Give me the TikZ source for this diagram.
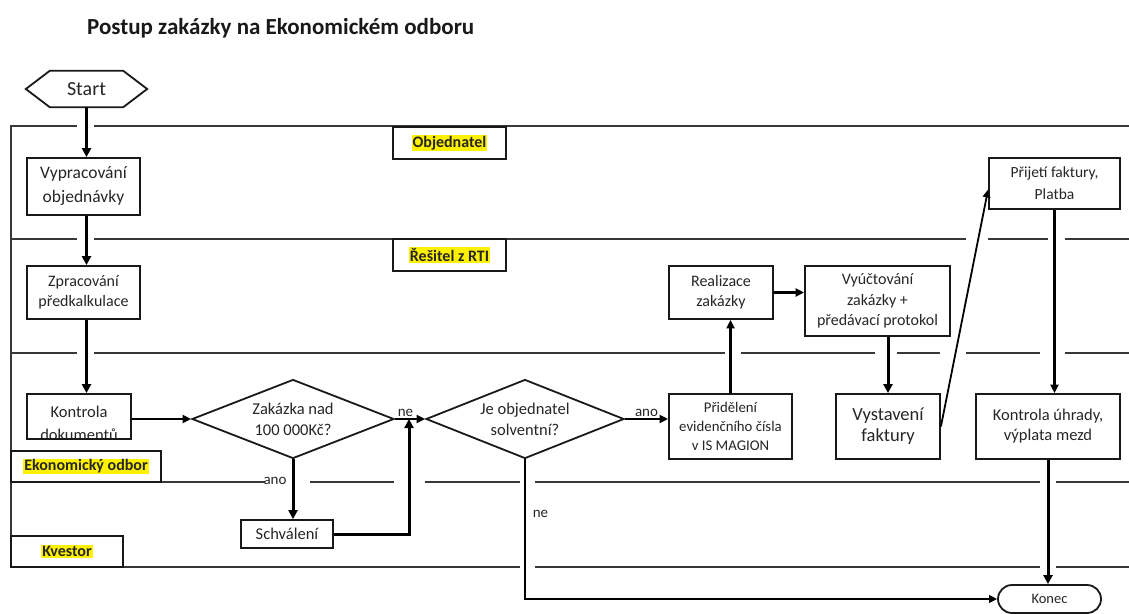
\documentclass[tikz,border=0pt]{standalone}
\usepackage{fontspec}
\setmainfont{Carlito}
\usetikzlibrary{shapes.geometric,arrows.meta}
\newcommand{\fsz}[2]{\fontsize{#1}{#2}\selectfont}
\newcommand{\hlt}[1]{{\setlength{\fboxsep}{1pt}\colorbox{yellow}{#1}}}
\begin{document}
\begin{tikzpicture}[x=1pt,y=-1pt,
  lane/.style={draw=black!78, line width=2pt},
  outline/.style={draw=black!90, line width=1.8pt, fill=white},
  box/.style={draw=black!90, line width=1.8pt, fill=white, align=center, inner sep=2pt, text=black!85},
  lbl/.style={box, font=\bfseries\fsz{16}{18}},
  dia/.style={box, diamond, shape aspect=2.5, inner sep=0pt, font=\fsz{16.5}{21}},
  lab/.style={font=\fsz{15}{16}, inner sep=0pt, text=black!85, anchor=base},
  tarr/.style={-{Triangle[length=9pt,width=9pt]}, line width=3pt, draw=black},
  marr/.style={-{Triangle[length=8.5pt,width=8pt]}, line width=2.2pt, draw=black},
  narr/.style={-{Triangle[length=8pt,width=7.5pt]}, line width=1.8pt, draw=black}
]
\useasboundingbox (0,0) rectangle (1129,613);
\fill[white] (0,0) rectangle (1129,613);

% title
\node[anchor=base west, font=\bfseries\fsz{23}{26}, text=black!90, inner sep=0pt] (title) at (87,34) {Postup zakázky na Ekonomickém odboru};

% lanes
\draw[lane] (77,126) -- (11,126) -- (11,567) -- (520,567);
\draw[lane] (94,126) -- (1129,126);
\draw[lane] (11,239) -- (77,239) (94,239) -- (966,239) (988,239) -- (1048,239) (1065,239) -- (1129,239);
\draw[lane] (11,353) -- (77,353) (94,353) -- (725,353) (741,353) -- (875,353) (897,353) -- (940,353) (966,353) -- (1040,353) (1065,353) -- (1129,353);
\draw[lane] (11,482) -- (265,482) (310,482) -- (394,482) (425,482) -- (520,482) (535,482) -- (1040,482) (1056,482) -- (1129,482);
\draw[lane] (535,567) -- (1040,567) (1056,567) -- (1129,567);

% lane labels
\node[lbl, minimum width=113pt, minimum height=32pt] (obj) at (449.5,143) {\hlt{Objednatel}};
\node[lbl, minimum width=113pt, minimum height=32pt] (res) at (449.5,255) {\hlt{Řešitel z RTI}};
\node[lbl, minimum width=150pt, minimum height=31pt] (eko) at (86,466.5) {\hlt{Ekonomický odbor}};
\node[lbl, minimum width=112pt, minimum height=31pt] (kve) at (67,551.5) {\hlt{Kvestor}};

% start
\node[minimum width=121pt, minimum height=36pt, inner sep=0pt] (start) at (86.5,89) {};
\draw[outline] (start.west) -- ([xshift=24pt]start.north west) -- ([xshift=-24pt]start.north east) -- (start.east) -- ([xshift=-24pt]start.south east) -- ([xshift=24pt]start.south west) -- cycle;
\node[font=\fsz{20}{22}, inner sep=0pt, text=black!85] (starttext) at (start.center) {Start};

% process nodes
\node[box, font=\fsz{17.5}{24}, minimum width=113pt, minimum height=57pt] (vyp) at (83.5,186.5) {Vypracování\\objednávky};
\node[box, font=\fsz{16}{20}, minimum width=113pt, minimum height=53pt] (zpr) at (83.5,292.5) {Zpracování\\předkalkulace};
\node[box, minimum width=104pt, minimum height=45pt,
  path picture={\node[align=center, font=\fsz{16.5}{23}, text=black!85, anchor=base] (kdtext) at ([yshift=-1.5pt]path picture bounding box.south) {Kontrola\\dokumentů};}] (kd) at (79,416.5) {};
\node[dia, minimum width=202pt, minimum height=79pt] (d1) at (293,419) {Zakázka nad\\100 000Kč?};
\node[dia, minimum width=198pt, minimum height=79pt] (d2) at (525,419) {Je objednatel\\solventní?};
\node[box, font=\fsz{16.5}{20}, minimum width=92pt, minimum height=28pt] (sch) at (287,534) {Schválení};
\node[box, font=\fsz{16}{20}, minimum width=104pt, minimum height=53pt] (real) at (721,292.5) {Realizace\\zakázky};
\node[box, font=\fsz{16}{20.5}, minimum width=145pt, minimum height=70pt] (vyu) at (877.5,301) {Vyúčtování\\zakázky +\\předávací protokol};
\node[box, font=\fsz{14.8}{19}, minimum width=123pt, minimum height=65pt] (prid) at (730.5,426.5) {Přidělení\\evidenčního čísla\\v IS MAGION};
\node[box, font=\fsz{18.5}{21}, minimum width=104pt, minimum height=65pt] (vyst) at (888,426.5) {Vystavení\\faktury};
\node[box, font=\fsz{15.5}{22}, minimum width=131pt, minimum height=51pt] (prij) at (1054.5,183.5) {Přijetí faktury,\\Platba};
\node[box, font=\fsz{16.5}{20}, minimum width=144pt, minimum height=65pt] (ku) at (1048,426.5) {Kontrola úhrady,\\výplata mezd};
\node[box, rounded corners=14pt, font=\fsz{14.5}{16}, minimum width=103pt, minimum height=28pt] (konec) at (1049.5,599) {Konec};

% connectors
\draw[tarr] (start.south) -- (start.south |- vyp.north);
\draw[tarr] (start.south |- vyp.south) -- (start.south |- zpr.north);
\draw[tarr] (start.south |- zpr.south) -- (start.south |- kd.north);
\draw[marr] (kd.east |- d1.west) -- (d1.west);
\draw[tarr] (d1.south) -- (d1.south |- sch.north);
\coordinate (m) at (409,419);
\draw[tarr] (sch.east) -| (m);
\draw[marr] (d1.east) -- (d2.west);
\draw[marr] (d2.east) -- (d2.east -| prid.west);
\draw[marr] (prid.north) -- (prid.north |- real.south);
\draw[marr] (real.east) -- (real.east -| vyu.west);
\draw[tarr] (vyst.north |- vyu.south) -- (vyst.north);
\draw[narr] (vyst.east) -- ([yshift=-6pt]prij.west);
\draw[marr] (prij.south) -- (prij.south |- ku.north);
\draw[tarr] (ku.south) -- (ku.south |- konec.north);
\draw[narr] (d2.south) |- (konec.west);

% labels
\node[lab] (ne1) at (405.5,416) {ne};
\node[lab] (ano1) at (646.5,416) {ano};
\node[lab] (ano2) at (275,484) {ano};
\node[lab] (ne2) at (540.5,517) {ne};
\end{tikzpicture}
\end{document}
